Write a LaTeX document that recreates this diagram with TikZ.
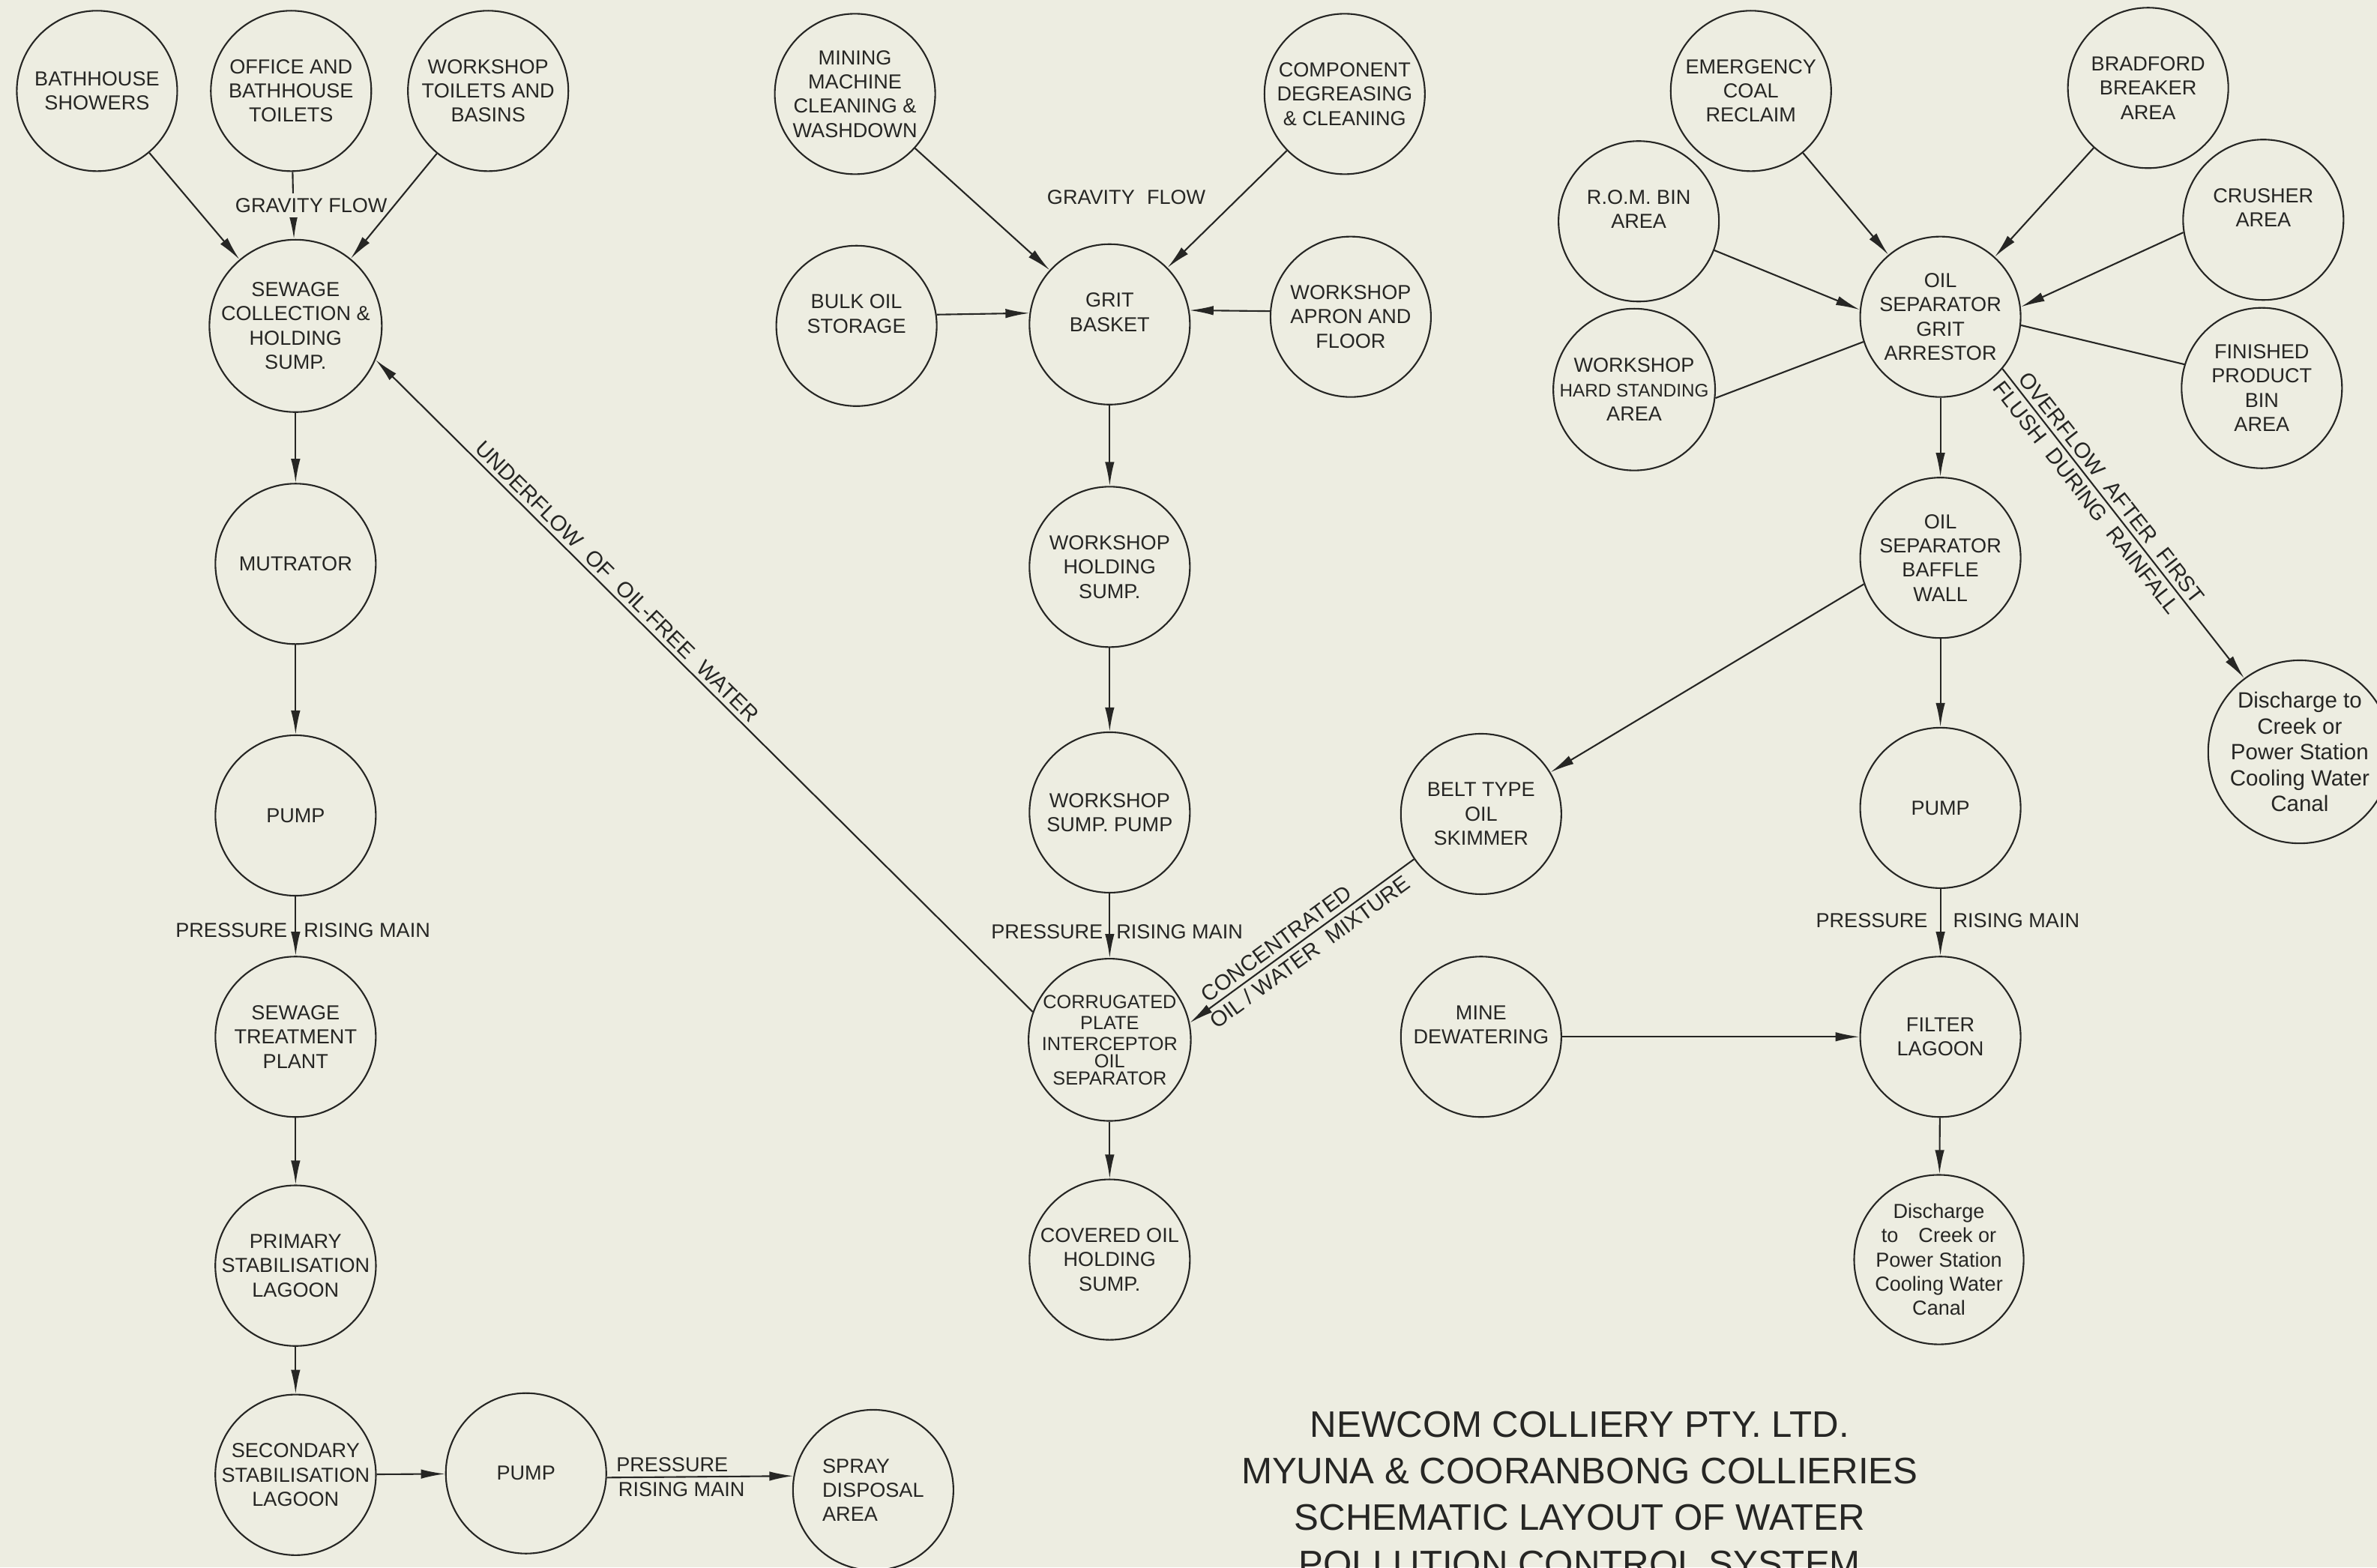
\documentclass[tikz,border=0pt]{standalone}
\usepackage{fontspec}
\setmainfont{Liberation Sans}
\usetikzlibrary{arrows.meta}
\definecolor{paper}{RGB}{237,237,225}
\definecolor{ink}{RGB}{38,38,36}
\newcommand{\tagfont}{\fontsize{7.7}{9.2}\selectfont}
\newcommand{\alongfont}{\fontsize{8.3}{9.5}\selectfont}
\newcommand{\headfont}{\fontsize{14}{17.6}\selectfont}
\newcommand{\wgap}{\hspace{0.6em}}

\begin{document}
\begin{tikzpicture}[
        x=0.2022mm, y=-0.2022mm,
        tank/.style={circle, draw=ink, line width=0.6pt, minimum size=21.4mm, inner sep=0pt, align=center, text=ink, font=\tagfont},
        lbl/.style={text=ink, font=\tagfont, inner sep=0.6mm},
        along/.style={lbl, sloped, font=\alongfont},
        arrow/.style={draw=ink, line width=0.6pt, -{Latex[length=3.2mm, width=1.25mm]}},
        link/.style={draw=ink, line width=0.6pt}
    ]
        \useasboundingbox (0,0) rectangle (1568,1034);
        \fill[paper] (0,0) rectangle (1568,1034);
        \clip (0,0) rectangle (1568,1034);

        % Sewage line
        \node[tank] (bathsh) at (64,60) {BATHHOUSE\\SHOWERS};
        \node[tank] (office) at (192,60) {OFFICE AND\\BATHHOUSE\\TOILETS};
        \node[tank] (wstoil) at (322,60) {WORKSHOP\\TOILETS AND\\BASINS};
        \node[tank] (sewsump) at (195,215) {SEWAGE\\COLLECTION \&\\HOLDING\\SUMP.};
        \node[tank] (mutrator) at (195,372) {MUTRATOR};
        \node[tank] (pumpa) at (195,538) {PUMP};
        \node[tank] (treat) at (195,684) {SEWAGE\\TREATMENT\\PLANT};
        \node[tank] (primary) at (195,835) {PRIMARY\\STABILISATION\\LAGOON};
        \node[tank] (secondary) at (195,973) {SECONDARY\\STABILISATION\\LAGOON};
        \node[tank] (pumpb) at (347,972) {PUMP};
        \node[tank, align=left] (spray) at (576,983) {SPRAY\\DISPOSAL\\AREA};

        % Workshop line
        \node[tank] (mining) at (564,62) {MINING\\MACHINE\\CLEANING \&\\WASHDOWN};
        \node[tank] (component) at (887,62) {COMPONENT\\DEGREASING\\\& CLEANING};
        \node[tank] (bulk) at (565,215) {BULK OIL\\STORAGE\\~};
        \node[tank] (grit) at (732,214) {GRIT\\BASKET\\~};
        \node[tank] (apron) at (891,209) {WORKSHOP\\APRON AND\\FLOOR};
        \node[tank] (wshold) at (732,374) {WORKSHOP\\HOLDING\\SUMP.};
        \node[tank] (wspump) at (732,536) {WORKSHOP\\SUMP. PUMP};
        \node[tank, font=\fontsize{7.2}{8}\selectfont] (cpi) at (732,686) {CORRUGATED\\PLATE\\INTERCEPTOR\\[-1.5pt]OIL\\[-1.5pt]SEPARATOR};
        \node[tank] (covered) at (732,831) {COVERED OIL\\HOLDING\\SUMP.};

        % Coal handling line
        \node[tank] (emerg) at (1155,60) {EMERGENCY\\COAL\\RECLAIM};
        \node[tank] (bradford) at (1417,58) {BRADFORD\\BREAKER\\AREA};
        \node[tank] (rom) at (1081,146) {R.O.M. BIN\\AREA\\~};
        \node[tank] (crusher) at (1493,145) {CRUSHER\\AREA\\~};
        \node[tank] (hard) at (1078,257) {WORKSHOP\\{\fontsize{6.9}{8.8}\selectfont HARD STANDING}\\AREA};
        \node[tank] (arrestor) at (1280,209) {OIL\\SEPARATOR\\GRIT\\ARRESTOR};
        \node[tank] (finished) at (1492,256) {FINISHED\\PRODUCT\\BIN\\AREA};
        \node[tank] (baffle) at (1280,368) {OIL\\SEPARATOR\\BAFFLE\\WALL};
        \node[tank, font=\fontsize{8.4}{9.8}\selectfont] (disa) at (1517,496) {Discharge to\\Creek or\\Power Station\\Cooling Water\\Canal};
        \node[tank] (skimmer) at (977,537) {BELT TYPE\\OIL\\SKIMMER};
        \node[tank] (pumpc) at (1280,533) {PUMP};
        \node[tank] (minedw) at (977,684) {MINE\\DEWATERING\\~};
        \node[tank] (filter) at (1280,684) {FILTER\\LAGOON};
        \node[tank] (disb) at (1279,831) {Discharge\\to\quad Creek or\\Power Station\\Cooling Water\\Canal};

        % Texts
        \node[lbl] (gravmid) at (743,130) {GRAVITY\wgap FLOW};
        \node[text=ink, font=\headfont, align=center, inner sep=0pt, anchor=north] (title) at (1042,931)
            {NEWCOM COLLIERY PTY. LTD.\\MYUNA \& COORANBONG COLLIERIES\\SCHEMATIC LAYOUT OF WATER\\POLLUTION CONTROL SYSTEM};

        % Paths
        \draw[arrow] (bathsh) -- (sewsump);
        \draw[arrow] (office) -- node[lbl, fill=paper, xshift=2.4mm] {GRAVITY FLOW} (sewsump);
        \draw[arrow] (wstoil) -- (sewsump);
        \draw[arrow] (sewsump) -- (mutrator);
        \draw[arrow] (mutrator) -- (pumpa);
        \draw[arrow] (pumpa) -- node[lbl, left, pos=0.57, inner xsep=1mm] {PRESSURE}
            node[lbl, right, pos=0.57, inner xsep=1mm] {RISING MAIN} (treat);
        \draw[arrow] (treat) -- (primary);
        \draw[arrow] (primary) -- (secondary);
        \draw[arrow] (secondary) -- (pumpb);
        \draw[arrow] (pumpb.-3) -- node[lbl, above, pos=0.35] {PRESSURE}
            node[lbl, below, pos=0.4] {RISING MAIN} (spray.170);

        \draw[arrow] (mining) -- (grit);
        \draw[arrow] (component) -- (grit);
        \draw[arrow] (bulk.8) -- (grit.172);
        \draw[arrow] (apron.176) -- (grit.10);
        \draw[arrow] (grit) -- (wshold);
        \draw[arrow] (wshold) -- (wspump);
        \draw[arrow] (wspump) -- node[lbl, left, pos=0.6, inner xsep=0.8mm] {PRESSURE}
            node[lbl, right, pos=0.6, inner xsep=0.8mm] {RISING MAIN} (cpi);
        \draw[arrow] (cpi) -- (covered);
        \draw[arrow] (cpi.160) -- node[along, above, pos=0.646] {UNDERFLOW\wgap OF\wgap OIL-FREE\wgap WATER} (sewsump.-23);
        \draw[arrow] (skimmer.214) -- node[along, above, pos=0.58] {CONCENTRATED}
            node[along, below, pos=0.5] {OIL / WATER\wgap MIXTURE} (cpi.12);

        \draw[arrow] (emerg) -- (arrestor);
        \draw[arrow] (bradford) -- (arrestor);
        \draw[arrow] (rom.-21) -- (arrestor.175);
        \draw[arrow] (crusher.189) -- (arrestor.7);
        \draw[link] (hard.-6) -- (arrestor.198);
        \draw[link] (arrestor.-6) -- (finished.163);
        \draw[arrow] (arrestor) -- (baffle);
        \draw[arrow] (arrestor.-40) -- node[along, above, pos=0.41] {OVERFLOW\wgap AFTER\wgap FIRST}
            node[along, below, pos=0.39] {FLUSH\wgap DURING\wgap RAINFALL} (disa.127);
        \draw[arrow] (baffle.199) -- (skimmer.31);
        \draw[arrow] (baffle) -- (pumpc);
        \draw[arrow] (pumpc) -- node[lbl, left, pos=0.47, inner xsep=1.6mm] {PRESSURE}
            node[lbl, right, pos=0.47, inner xsep=1.6mm] {RISING MAIN} (filter);
        \draw[arrow] (minedw) -- (filter);
        \draw[arrow] (filter) -- (disb);
\end{tikzpicture}
\end{document}
